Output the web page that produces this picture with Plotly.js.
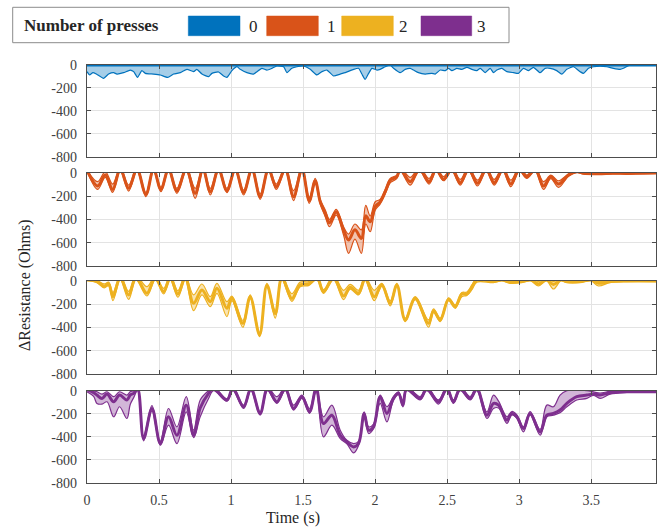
<!DOCTYPE html>
<html>
<head>
<meta charset="utf-8">
<script src="https://cdn.plot.ly/plotly-3.0.1.min.js"></script>
<style>html,body{margin:0;padding:0;background:#fff;}#chart{width:658px;height:531px;}</style>
</head>
<body>
<div id="chart"></div>
<script>
// ---------- data ----------
const pressCounts = ['0', '1', '2', '3'];
const seriesColors = ['#0072BD', '#D95319', '#EDB120', '#7E2F8E'];
const xTickVals = [0, 0.5, 1, 1.5, 2, 2.5, 3, 3.5];
const xTickText = ['0', '0.5', '1', '1.5', '2', '2.5', '3', '3.5'];
const yTickVals = [0, -200, -400, -600, -800];
const yTickText = ['0', '-200', '-400', '-600', '-800'];

// 0 presses
const p0Time = [0, .018, .041, .065, .115, .150, .185, .208, .254, .300, .324, .351, .381, .405, .462, .509, .560, .601, .648, .694, .740, .763, .798, .844, .867, .913, .948, .971, 1.006, 1.041, 1.064, 1.110, 1.156, 1.180, 1.214, 1.249, 1.284, 1.318, 1.365, 1.388, 1.422, 1.457, 1.503, 1.550, 1.596, 1.631, 1.665, 1.712, 1.758, 1.793, 1.851, 1.885, 1.908, 1.931, 1.955, 1.978, 2.012, 2.035, 2.070, 2.105, 2.128, 2.174, 2.209, 2.244, 2.267, 2.301, 2.348, 2.394, 2.417, 2.452, 2.487, 2.510, 2.533, 2.568, 2.602, 2.637, 2.672, 2.706, 2.730, 2.764, 2.799, 2.822, 2.845, 2.880, 2.915, 2.961, 2.995, 3.030, 3.065, 3.099, 3.146, 3.180, 3.215, 3.261, 3.296, 3.331, 3.377, 3.423, 3.446, 3.481, 3.516, 3.562, 3.608, 3.654, 3.701, 3.724, 3.770, 3.95];
const p0Lo = [-58, -87, -67, -79, -116, -79, -67, -79, -67, -44, -58, -108, -49, -73, -79, -87, -108, -79, -67, -38, -58, -38, -79, -102, -73, -61, -96, -108, -49, -15, -38, -67, -79, -58, -29, -44, -29, -9, -15, -67, -29, -15, -9, -38, -87, -58, -44, -96, -79, -67, -38, -29, -79, -125, -73, -29, -44, -38, -15, 0, -29, -67, -38, -29, -44, -67, -79, -73, -79, -44, -49, -29, -49, -29, -38, -20, -38, -49, -29, -67, -29, -67, -44, -29, -58, -67, -73, -29, -49, -20, -67, -29, -29, -49, -79, -38, -15, -58, -73, -29, -15, -9, -15, -29, -38, -29, 0, 0];
const p0HiTime = [0, 3.95];
const p0Hi = [0, 0];
const p0Mean = [0, 0];

// 1 press
const p1Time = [0, .074, .127, .178, .231, .289, .347, .409, .462, .513, .566, .624, .689, .751, .805, .856, .913, .971, 1.029, 1.087, 1.145, 1.202, 1.260, 1.314, 1.376, 1.434, 1.492, 1.543, 1.584, 1.619, 1.654, 1.684, 1.730, 1.781, 1.816, 1.860, 1.905, 1.935, 1.966, 2.001, 2.035, 2.070, 2.105, 2.128, 2.151, 2.175, 2.244, 2.308, 2.375, 2.424, 2.475, 2.533, 2.591, 2.649, 2.711, 2.771, 2.827, 2.887, 2.942, 3.002, 3.053, 3.111, 3.169, 3.220, 3.273, 3.343, 3.401, 3.45, 3.55, 3.65, 3.75, 3.85, 3.95];
const p1Mean = [20, -114, -20, -143, 30, -134, 30, -186, 30, -143, 30, -154, 30, -177, 30, -163, 30, -154, 30, -169, 30, -206, 30, -120, 30, -206, 30, -240, -69, -249, -349, -429, -334, -491, -577, -490, -563, -370, -420, -291, -249, -163, -63, -49, -34, 30, -77, 30, -77, 30, -57, 30, -86, 30, -91, 30, -86, 30, -97, 30, -34, 30, -114, -34, -97, -20, 10, -5, -8, -5, -6, -4, -3];
const p1Lo = [15, -143, -40, -169, 15, -157, 15, -206, 15, -163, 15, -177, 15, -220, 15, -191, 15, -171, 15, -191, 15, -229, 15, -143, 15, -240, 15, -263, -91, -269, -377, -463, -363, -534, -691, -570, -691, -440, -506, -320, -269, -183, -86, -69, -49, 15, -106, 15, -97, 15, -69, 15, -106, 15, -114, 15, -106, 15, -120, 15, -49, 15, -143, -50, -126, -30, 0, -12, -15, -10, -12, -8, -6];
const p1Hi = [25, -77, 10, -97, 45, -106, 45, -171, 45, -126, 45, -134, 45, -134, 45, -134, 45, -134, 45, -149, 45, -183, 45, -97, 45, -154, 45, -211, -49, -229, -320, -400, -314, -463, -526, -440, -490, -280, -371, -249, -229, -143, -49, -34, -20, 45, -40, 45, -49, 45, -34, 45, -57, 45, -63, 45, -57, 45, -63, 45, -20, 45, -77, -20, -69, -10, 20, 0, 0, 0, 0, 0, 0];

// 2 presses
const p2Time = [0, .069, .120, .150, .180, .231, .289, .340, .416, .474, .532, .578, .631, .682, .740, .798, .856, .902, .971, 1.006, 1.082, 1.133, 1.198, 1.249, 1.307, 1.353, 1.422, 1.480, 1.538, 1.596, 1.642, 1.712, 1.781, 1.827, 1.885, 1.931, 1.994, 2.047, 2.105, 2.151, 2.209, 2.278, 2.371, 2.406, 2.452, 2.510, 2.556, 2.602, 2.637, 2.672, 2.706, 2.822, 2.880, 2.938, 3.019, 3.080, 3.134, 3.190, 3.238, 3.290, 3.331, 3.423, 3.500, 3.550, 3.631, 3.747, 3.95];
const p2Mean = [15, -5, -45, -25, -135, 30, -120, 30, -106, 30, -92, 30, -112, 30, -192, -77, -178, -63, -235, -149, -364, -135, -464, -34, -280, 30, -150, -34, -26, 30, -92, 30, -129, -54, -106, 20, -135, -34, -192, -34, -335, -149, -364, -255, -335, -158, -221, -112, -112, -54, 10, -5, 10, -10, -5, 10, -25, 10, -30, 10, -5, -5, 10, -20, -5, 0, 0];
const p2Lo = [0, -14, -60, -40, -169, 10, -158, 10, -129, 10, -112, 10, -140, 10, -255, -120, -221, -106, -307, -170, -398, -150, -479, -45, -320, 10, -175, -50, -40, 10, -106, 10, -160, -70, -120, 5, -169, -45, -215, -45, -350, -160, -398, -270, -350, -170, -235, -135, -125, -75, -10, -14, 0, -20, -14, 0, -43, 0, -69, 0, -14, -14, 0, -43, -14, -5, -5];
const p2Hi = [25, 5, -25, -10, -100, 45, -90, 45, -49, 45, -63, 45, -83, 45, -120, -26, -135, -20, -178, -130, -340, -120, -445, -20, -260, 45, -110, -10, -5, 45, -75, 45, -80, -30, -80, 35, -80, -20, -170, -20, -320, -135, -335, -240, -320, -145, -205, -100, -95, -34, 20, 5, 20, 0, 5, 20, -5, 20, -5, 20, 0, 0, 20, -5, 0, 5, 5];

// 3 presses
const p3Time = [0, .046, .069, .104, .139, .185, .226, .277, .300, .324, .351, .393, .451, .509, .566, .624, .689, .740, .786, .844, .879, .971, 1.013, 1.087, 1.138, 1.202, 1.253, 1.318, 1.376, 1.434, 1.492, 1.545, 1.591, 1.642, 1.700, 1.758, 1.804, 1.851, 1.885, 1.924, 1.955, 1.989, 2.035, 2.082, 2.128, 2.163, 2.193, 2.220, 2.313, 2.359, 2.440, 2.498, 2.544, 2.591, 2.660, 2.706, 2.776, 2.822, 2.857, 2.915, 2.949, 2.984, 3.030, 3.076, 3.146, 3.192, 3.238, 3.284, 3.331, 3.400, 3.470, 3.516, 3.562, 3.631, 3.747, 3.95];
const p3Mean = [10, -17, -38, -67, -29, -96, -38, -81, -38, -23, 20, -415, -154, -458, -226, -386, -125, -386, -150, -23, 20, -81, 20, -139, 20, -197, 20, -96, 20, -154, -52, -183, 20, -284, -212, -386, -444, -487, -458, -197, -342, -313, -52, -197, -67, -23, -125, 20, -67, 20, -96, 20, -96, 20, -67, 20, -212, -110, -125, -255, -197, -226, -328, -197, -357, -212, -197, -168, -110, -52, -38, -29, -38, -17, -9, -9];
const p3Lo = [-10, -50, -110, -116, -96, -226, -139, -241, -120, -60, 0, -435, -175, -473, -299, -458, -183, -406, -226, -67, 0, -90, 0, -154, 0, -212, 0, -110, 0, -168, -67, -197, 0, -400, -299, -415, -460, -539, -475, -226, -371, -330, -110, -270, -80, -35, -140, 0, -80, 0, -116, 0, -110, 0, -80, 0, -241, -154, -150, -284, -210, -240, -357, -210, -386, -226, -212, -190, -139, -81, -67, -40, -67, -30, -15, -15];
const p3Hi = [20, 0, -9, -29, -9, -52, -9, -38, -9, 0, 30, -395, -130, -440, -154, -313, -52, -342, -81, 0, 30, -70, 30, -125, 30, -183, 30, -52, 30, -125, -38, -154, 30, -226, -125, -342, -430, -458, -440, -183, -313, -290, -38, -139, -50, -10, -100, 30, -50, 30, -80, 30, -80, 30, -50, 30, -183, -38, -90, -226, -180, -210, -313, -180, -336, -125, -139, -38, 0, 10, 0, -10, -20, -5, -5, -5];

const panels = [
  {loT: p0Time, lo: p0Lo, hiT: p0HiTime, hi: p0Hi, meanT: p0HiTime, mean: p0Mean},
  {loT: p1Time, lo: p1Lo, hiT: p1Time, hi: p1Hi, meanT: p1Time, mean: p1Mean},
  {loT: p2Time, lo: p2Lo, hiT: p2Time, hi: p2Hi, meanT: p2Time, mean: p2Mean},
  {loT: p3Time, lo: p3Lo, hiT: p3Time, hi: p3Hi, meanT: p3Time, mean: p3Mean}
];

// ---------- styling helpers ----------
const FONT = '"Liberation Serif", "Times New Roman", Times, serif';
function rgba(hex, a) {
  const r = parseInt(hex.slice(1, 3), 16), g = parseInt(hex.slice(3, 5), 16), b = parseInt(hex.slice(5, 7), 16);
  return 'rgba(' + r + ',' + g + ',' + b + ',' + a + ')';
}

const traces = [];
panels.forEach((p, i) => {
  const c = seriesColors[i];
  const xa = i === 0 ? 'x' : 'x' + (i + 1);
  const ya = i === 0 ? 'y' : 'y' + (i + 1);
  const sm = i === 0 ? 0.5 : 1.0;
  traces.push({x: p.loT, y: p.lo, xaxis: xa, yaxis: ya, type: 'scatter', mode: 'lines',
    line: {color: c, width: 1.2, shape: 'spline', smoothing: sm}, hoverinfo: 'skip', showlegend: false});
  traces.push({x: p.hiT, y: p.hi, xaxis: xa, yaxis: ya, type: 'scatter', mode: 'lines',
    line: {color: c, width: 1.2, shape: 'spline', smoothing: sm}, fill: 'tonexty', fillcolor: rgba(c, 0.35),
    hoverinfo: 'skip', showlegend: false});
  traces.push({x: p.meanT, y: p.mean, xaxis: xa, yaxis: ya, type: 'scatter', mode: 'lines',
    line: {color: c, width: 3, shape: 'spline', smoothing: sm}, name: pressCounts[i], showlegend: false});
});

const domains = [[0.7806, 1.0], [0.5191, 0.7423], [0.2608, 0.4833], [0.0, 0.2208]];
const axisCommon = {
  showline: true, mirror: 'allticks', linecolor: '#4d4d4d', linewidth: 1.2,
  ticks: 'inside', ticklen: 4, tickcolor: '#4d4d4d', tickwidth: 1,
  showgrid: true, gridcolor: '#e3e3e3', gridwidth: 1, zeroline: false,
  tickfont: {family: FONT, size: 14, color: '#404040'}
};

const layout = {
  width: 658, height: 531,
  margin: {l: 87, r: 2, t: 65, b: 48},
  paper_bgcolor: '#ffffff', plot_bgcolor: '#ffffff',
  showlegend: false,
  font: {family: FONT, color: '#262626'},
  shapes: [], annotations: []
};

for (let i = 0; i < 4; i++) {
  const xk = i === 0 ? 'xaxis' : 'xaxis' + (i + 1);
  const yk = i === 0 ? 'yaxis' : 'yaxis' + (i + 1);
  const yname = i === 0 ? 'y' : 'y' + (i + 1);
  const xname = i === 0 ? 'x' : 'x' + (i + 1);
  layout[xk] = Object.assign({}, axisCommon, {
    domain: [0, 1], anchor: yname, range: [0, 3.95],
    tickmode: 'array', tickvals: xTickVals, ticktext: xTickText,
    showticklabels: i === 3, ticklabelstandoff: 4
  });
  if (i > 0) layout[xk].matches = 'x';
  layout[yk] = Object.assign({}, axisCommon, {
    domain: domains[i], anchor: xname, range: [-800, 0],
    tickmode: 'array', tickvals: yTickVals, ticktext: yTickText,
    ticklabelstandoff: 6
  });
}

// axis titles
layout.annotations.push({
  text: 'Time (s)', xref: 'paper', yref: 'paper', x: 0.3612, y: -0.0837,
  xanchor: 'center', yanchor: 'middle', showarrow: false,
  font: {family: FONT, size: 16, color: '#262626'}
});
layout.annotations.push({
  text: '\u0394Resistance (Ohms)', xref: 'paper', yref: 'paper', x: -0.109, y: 0.4737,
  xanchor: 'center', yanchor: 'middle', textangle: -90, showarrow: false,
  font: {family: FONT, size: 16, color: '#262626'}
});

// legend box drawn with shapes
function px2x(px) { return (px - 87) / 569; }
function py2y(py) { return (483 - py) / 418; }
layout.shapes.push({type: 'rect', xref: 'paper', yref: 'paper',
  x0: px2x(12.7), x1: px2x(509), y0: py2y(42.7), y1: py2y(7.3),
  line: {color: '#8c8c8c', width: 1}, fillcolor: '#ffffff', layer: 'above'});
layout.annotations.push({
  text: '<b>Number of presses</b>', xref: 'paper', yref: 'paper', x: px2x(22), y: py2y(25.5),
  xanchor: 'left', yanchor: 'middle', showarrow: false,
  font: {family: FONT, size: 17, color: '#262626'}
});
const patchX = [188.3, 266.7, 341.7, 421];
const patchW = [51.7, 51.6, 51.6, 50.7];
const labelX = [247, 325, 397, 475];
for (let i = 0; i < 4; i++) {
  layout.shapes.push({type: 'rect', xref: 'paper', yref: 'paper',
    x0: px2x(patchX[i]), x1: px2x(patchX[i] + patchW[i]), y0: py2y(35.7), y1: py2y(16),
    line: {color: seriesColors[i], width: 0.5}, fillcolor: seriesColors[i], layer: 'above'});
  layout.annotations.push({
    text: pressCounts[i], xref: 'paper', yref: 'paper', x: px2x(labelX[i]), y: py2y(26),
    xanchor: 'left', yanchor: 'middle', showarrow: false,
    font: {family: FONT, size: 17, color: '#262626'}
  });
}

Plotly.newPlot('chart', traces, layout, {displayModeBar: false, staticPlot: true});
</script>
</body>
</html>
